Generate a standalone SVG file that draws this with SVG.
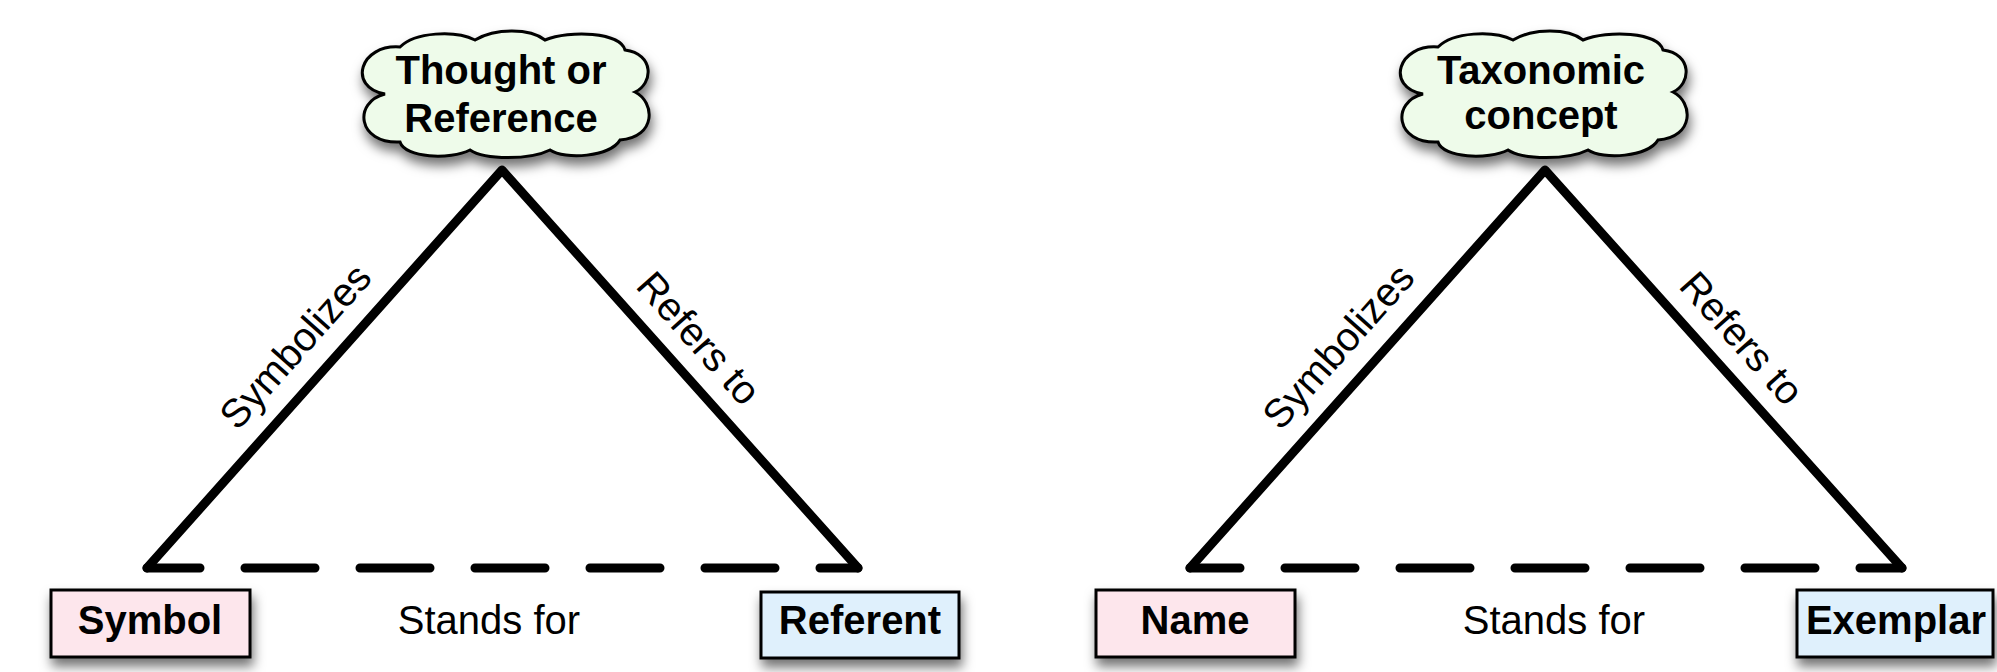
<svg xmlns="http://www.w3.org/2000/svg" width="1997" height="672" viewBox="0 0 1997 672">
<defs>
<filter id="shadow" x="-20%" y="-30%" width="140%" height="170%">
<feDropShadow dx="2" dy="8" stdDeviation="6" flood-color="#000" flood-opacity="0.55"/>
</filter>
<path id="cloud" d="M 30,62 C -8,55 5,12 45,15 C 60,0 100,-2 120,8 C 140,-4 175,-4 190,8 C 215,-2 265,0 270,18 C 300,22 298,52 280,60 C 300,70 302,105 265,108 C 255,125 210,128 195,118 C 175,128 130,128 115,118 C 95,128 50,126 45,110 C 2,112 -2,70 30,62 Z"/>
</defs>
<style>
.cloud{fill:#eefbea;stroke:#000;stroke-width:3;filter:url(#shadow)}
.box{stroke:#000;stroke-width:3;filter:url(#shadow)}
.pink{fill:#fde6ec}
.blue{fill:#dff0fc}
.bold{font-family:"Liberation Sans",Arial,sans-serif;font-weight:bold;font-size:40px;text-anchor:middle;fill:#000}
.lbl{font-family:"Liberation Sans",Arial,sans-serif;font-size:40px;text-anchor:middle;fill:#000}
.solid{fill:none;stroke:#000;stroke-width:9;stroke-linejoin:round;stroke-linecap:round}
.dash{fill:none;stroke:#000;stroke-width:9;stroke-linecap:round;stroke-dasharray:70 45}
</style>
<rect width="1997" height="672" fill="#fff"/>
<g id="connectors">
<path class="solid" d="M147,568 L502,170 L858,568"/>
<path class="dash" style="stroke-dashoffset:17" d="M147,568 L858,568"/>
<text class="lbl" transform="translate(295,346) rotate(-48.3)" y="14">Symbolizes</text>
<text class="lbl" transform="translate(699,338) rotate(48.3)" y="14">Refers to</text>
<text class="lbl" x="489" y="634">Stands for</text>
<path class="solid" d="M1190,568 L1545,170 L1902,568"/>
<path class="dash" style="stroke-dashoffset:20" d="M1190,568 L1902,568"/>
<text class="lbl" transform="translate(1338,346) rotate(-48.3)" y="14">Symbolizes</text>
<text class="lbl" transform="translate(1742,338) rotate(48.3)" y="14">Refers to</text>
<text class="lbl" x="1554" y="634">Stands for</text>
</g>
<g id="thought">
<use href="#cloud" class="cloud" transform="translate(355,32)"/>
<text class="bold" x="501" y="84">Thought or</text>
<text class="bold" x="501" y="132">Reference</text>
</g>
<g id="symbol">
<rect class="box pink" x="51" y="590" width="199" height="67"/>
<text class="bold" x="150" y="634">Symbol</text>
</g>
<g id="referent">
<rect class="box blue" x="761" y="592" width="198" height="66"/>
<text class="bold" x="860" y="634">Referent</text>
</g>
<g id="taxonomic">
<use href="#cloud" class="cloud" transform="translate(1393,32)"/>
<text class="bold" x="1541" y="84">Taxonomic</text>
<text class="bold" x="1541" y="129">concept</text>
</g>
<g id="name">
<rect class="box pink" x="1096" y="590" width="199" height="67"/>
<text class="bold" x="1195" y="634">Name</text>
</g>
<g id="exemplar">
<rect class="box blue" x="1797" y="590" width="196" height="67"/>
<text class="bold" x="1896" y="634">Exemplar</text>
</g>
</svg>
